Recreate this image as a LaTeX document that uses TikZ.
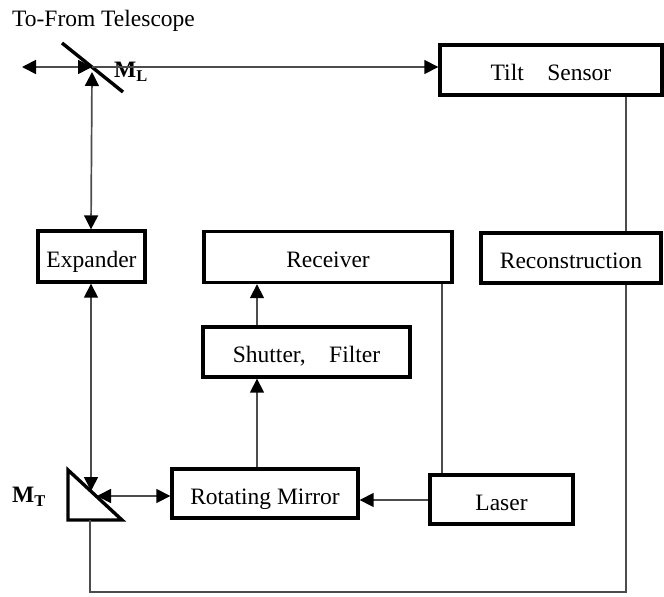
\documentclass[tikz,border=0pt]{standalone}
\usepackage{fontspec}
\setmainfont{Liberation Serif}
\usetikzlibrary{arrows.meta}
\begin{document}
\begin{tikzpicture}[x=1pt,y=-1pt,
  every node/.style={font=\fontsize{23.5}{25}\selectfont},
  box/.style={draw, line width=3.4pt, inner sep=0pt, line join=miter, text height=21pt, text depth=0pt},
  conn/.style={draw=black!70, line width=1.7pt},
  tipe/.style={-{Triangle[length=14pt,width=14pt,color=black]}},
  tipb/.style={{Triangle[length=14pt,width=14pt,color=black]}-{Triangle[length=14pt,width=14pt,color=black]}},
  optic/.style={line width=3.4pt, line join=miter}
]
\useasboundingbox (0,0) rectangle (664,597);

% boxes
\node[box, minimum width=222pt, minimum height=50pt] (tilt) at (551,70) {Tilt\quad Sensor};
\node[box, minimum width=248pt, minimum height=51pt] (recv) at (328,257) {Receiver};
\node[box, minimum width=207pt, minimum height=50pt] (shut) at (306.5,352) {Shutter,\quad Filter};
\node[box, minimum width=107pt, minimum height=51pt] (expa) at (91.5,256.5) {Expander};
\node[box, minimum width=180pt, minimum height=50pt] (reco) at (571,258) {Reconstruction};
\node[box, minimum width=186pt, minimum height=49pt] (rotm) at (265,493.5) {Rotating Mirror};
\node[box, minimum width=143pt, minimum height=49pt] (lase) at (501.5,499.5) {Laser};

% labels
\node (tel) at (103.5,21) {To-From Telescope};
\node (mll) at (131,72) {\textbf{M}\textsubscript{\textbf{L}}};
\node (mtl) at (29,497) {\textbf{M}\textsubscript{\textbf{T}}};

% mirror M_L
\coordinate (mla) at (62,43);
\coordinate (mlb) at (123,92);
\coordinate (ML) at (92,67);
\coordinate (telL) at (22,67);
\draw[optic] (mla) -- (mlb);

% prism M_T
\coordinate (mta) at (68,470);
\coordinate (mtb) at (68,520);
\coordinate (mtc) at (122,520);
\draw[optic] (mta) -- (mtb) -- (mtc) -- cycle;
\coordinate (mtv) at (91,491);
\coordinate (mth) at (97,496);
\coordinate (mtbot) at (90,520);

% helper x positions
\coordinate (xv) at (91,0);
\coordinate (xc) at (257,0);
\coordinate (xrl) at (442,0);
\coordinate (xr) at (626,0);
\coordinate (ybot) at (0,592);

% connectors at M_L
\draw[conn,tipb] (telL) -- (ML);
\draw[conn,tipe] (ML) -- (tilt.west |- ML);
\draw[conn,tipb] (92,72) -- (expa.north -| xv);

% expander to M_T
\draw[conn,tipb] (expa.south -| xv) -- (mtv);
\draw[conn,tipb] (mth) -- (rotm.west |- mth);

% optical chain
\draw[conn,tipe] (rotm.north -| xc) -- (shut.south -| xc);
\draw[conn,tipe] (shut.north -| xc) -- (recv.south -| xc);
\draw[conn,tipe] (lase.west |- 0,500) -- (rotm.east |- 0,500);
\draw[conn] (recv.south -| xrl) -- (lase.north -| xrl);

% tilt / reconstruction loop
\draw[conn] (tilt.south -| xr) -- (reco.north -| xr);
\draw[conn] (reco.south -| xr) -- (xr |- ybot) -- (mtbot |- ybot) -- (mtbot);
\end{tikzpicture}
\end{document}
